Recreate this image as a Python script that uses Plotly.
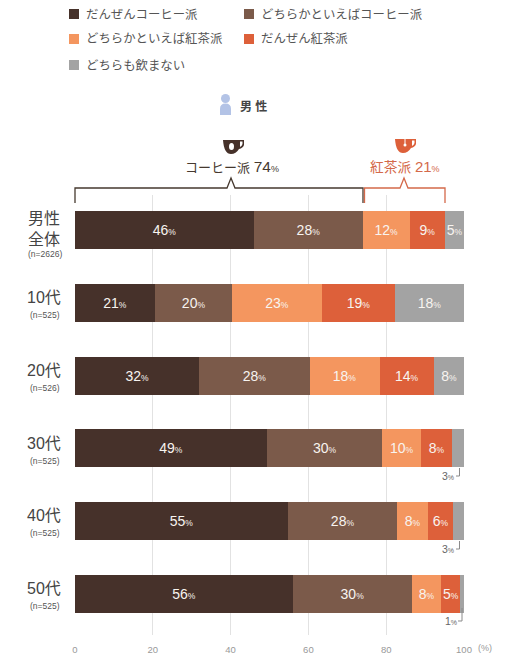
import plotly.graph_objects as go

categories = ["男性全体", "10代", "20代", "30代", "40代", "50代"]
row_names = ["男性<br>全体", "10代", "20代", "30代", "40代", "50代"]
row_ns = ["(n=2626)", "(n=525)", "(n=526)", "(n=525)", "(n=525)", "(n=525)"]

series_names = ["だんぜんコーヒー派", "どちらかといえばコーヒー派", "どちらかといえば紅茶派", "だんぜん紅茶派", "どちらも飲まない"]
always_coffee = [46.0, 20.6, 32.0, 49.4, 54.8, 56.0]
rather_coffee = [28.0, 19.8, 28.3, 29.6, 28.0, 30.6]
rather_tea = [12.0, 23.1, 18.0, 10.0, 8.0, 7.6]
always_tea = [9.2, 18.8, 14.0, 7.9, 6.4, 4.8]
neither = [4.8, 17.7, 7.7, 3.1, 2.8, 1.0]
series_values = [always_coffee, rather_coffee, rather_tea, always_tea, neither]
series_labels = [
    [46, 21, 32, 49, 55, 56],
    [28, 20, 28, 30, 28, 30],
    [12, 23, 18, 10, 8, 8],
    [9, 19, 14, 8, 6, 5],
    [5, 18, 8, None, None, None],
]
colors = ["#46312a", "#7b5a4a", "#f4965f", "#dd603a", "#a3a3a3"]

FONT = "Liberation Sans, Noto Sans CJK JP, sans-serif"
W, H = 506, 660
L, R, T, B = 75, 464, 195, 635


def px(x):
    return (x - L) / (R - L)


def py(y):
    return 1 - (y - T) / (B - T)


def path(pts):
    return " ".join(
        f"{c} {','.join(f'{px(p[i]):.5f} {py(p[i+1]):.5f}' for i in range(0, len(p), 2))}" if p else c
        for c, p in pts
    )


def pct(v, size=8.5):
    return f"{v}<span style='font-size:{size}px'>%</span>"


fig = go.Figure()
for name, vals, labs, col in zip(series_names, series_values, series_labels, colors):
    fig.add_bar(
        name=name, y=categories, x=vals, orientation="h", marker=dict(color=col, line_width=0),
        text=[pct(v) if v is not None else "" for v in labs],
        textposition="inside", insidetextanchor="middle", textangle=0, constraintext="none",
        textfont=dict(color="#f8f4f0", size=14, family=FONT),
        hoverinfo="x+name", showlegend=False,
    )

shapes, ann = [], []


def text(x, y, s, size, color="#444444", anchor="center", weight=None):
    ann.append(dict(xref="paper", yref="paper", x=px(x), y=py(y), text=s, showarrow=False,
                    xanchor=anchor, yanchor="middle", align="center",
                    font=dict(size=size, color=color, family=FONT, weight=weight)))


# legend
legend_pos = [(69, 14), (244, 14), (69, 39), (244, 39), (69, 65)]
for (x, y), name, col in zip(legend_pos, series_names, colors):
    shapes.append(dict(type="rect", xref="paper", yref="paper", x0=px(x), x1=px(x + 10),
                       y0=py(y - 5), y1=py(y + 5), fillcolor=col, line_width=0))
    text(x + 14.5, y + 0.5, name, 12.4, "#555555", "left")

# person icon
PERSON = "#b3c3e6"
shapes.append(dict(type="circle", xref="paper", yref="paper", x0=px(221), x1=px(230),
                   y0=py(94), y1=py(103), fillcolor=PERSON, line_width=0))
shapes.append(dict(type="path", xref="paper", yref="paper", fillcolor=PERSON, line_width=0,
                   path=path([("M", (220, 115)), ("L", (220, 109)), ("Q", (220, 103.5, 225.5, 103.5)),
                              ("Q", (231, 103.5, 231, 109)), ("L", (231, 115)), ("Z", ())])))
text(253, 106, "男 性", 12, "#444444", weight="bold")

# cups
COFFEE, TEA = "#46312a", "#dd603a"


def cup(x, y, col):
    shapes.append(dict(type="path", xref="paper", yref="paper", fillcolor=col, line_width=0,
                       path=path([("M", (x, y)), ("L", (x + 21, y)), ("L", (x + 21, y + 5)),
                                  ("Q", (x + 20, y + 8, x + 16, y + 9)),
                                  ("Q", (x + 13, y + 14, x + 8, y + 14)),
                                  ("Q", (x + 1, y + 14, x, y)), ("Z", ())])))
    shapes.append(dict(type="path", xref="paper", yref="paper", fillcolor="#ffffff", line_width=0,
                       path=path([("M", (x + 17, y + 1.5)), ("L", (x + 19.5, y + 1.5)), ("L", (x + 19.5, y + 4)),
                                  ("Q", (x + 19, y + 6, x + 17, y + 7)), ("Z", ())])))


cup(223, 140, COFFEE)
shapes.append(dict(type="circle", xref="paper", yref="paper", x0=px(229), x1=px(234),
                   y0=py(143), y1=py(150), fillcolor="#ffffff", line_width=0))
cup(395, 139, TEA)
shapes.append(dict(type="circle", xref="paper", yref="paper", x0=px(403.5), x1=px(406.5),
                   y0=py(143.5), y1=py(146.5), fillcolor="#ffffff", line_width=0))
shapes.append(dict(type="line", xref="paper", yref="paper", x0=px(405), x1=px(405),
                   y0=py(139), y1=py(144), line=dict(color="#ffffff", width=1)))

text(232, 167, "<span style='font-size:13px'>コーヒー派 </span>74<span style='font-size:9px'>%</span>", 15.5, "#46392f")
text(405, 167, "<span style='font-size:13.7px'>紅茶派 </span>21<span style='font-size:9px'>%</span>", 15, "#d4694a")

# brackets
shapes.append(dict(type="path", xref="paper", yref="paper", line=dict(color="#46392f", width=1.3),
                   path=path([("M", (75, 203)), ("L", (75, 188)), ("L", (227, 188)), ("L", (231, 178)),
                              ("L", (235, 188)), ("L", (363, 188)), ("L", (363, 203))])))
shapes.append(dict(type="path", xref="paper", yref="paper", line=dict(color="#d4694a", width=1.3),
                   path=path([("M", (364.5, 203)), ("L", (364.5, 188)), ("L", (400, 188)), ("L", (404, 178)),
                              ("L", (408, 188)), ("L", (445, 188)), ("L", (445, 203))])))

# row labels
name_y = [228.5, 297, 370, 443, 515, 588]
n_y = [254, 315, 388, 461, 533, 606]
for name, ny, n, nny in zip(row_names, name_y, row_ns, n_y):
    text(44, ny, name, 16, "#444444")
    text(45, nny, n, 8.5, "#555555")

# small-value leaders
GRAY = "#8a8a8a"
leaders = [(459.5, 468, 476, 456), (459.5, 541, 549, 456), (462, 608, 621, 458)]
for x, y0, y1, xe in leaders:
    shapes.append(dict(type="path", xref="paper", yref="paper", line=dict(color=GRAY, width=1),
                       path=path([("M", (x, y0)), ("L", (x, y1)), ("L", (xe, y1))])))
text(447.5, 476, pct(3, 7), 10.5, "#666666")
text(447.5, 549, pct(3, 7), 10.5, "#666666")
text(451, 621, pct(1, 7), 10.5, "#666666")
text(485, 648, "(%)", 9, "#999999")

fig.update_layout(
    width=W, height=H, barmode="stack", bargap=0.478,
    margin=dict(l=L, r=W - R, t=T, b=H - B, autoexpand=False),
    paper_bgcolor="#ffffff", plot_bgcolor="#ffffff",
    font=dict(family=FONT), shapes=shapes, annotations=ann,
    xaxis=dict(range=[0, 100], tickvals=[0, 20, 40, 60, 80, 100], showgrid=True, gridcolor="#e2e2e2",
               gridwidth=1, zeroline=False, showline=False, ticks="outside", ticklen=6,
               tickcolor="rgba(0,0,0,0)", tickfont=dict(size=9.5, color="#999999", family=FONT)),
    yaxis=dict(type="category", categoryorder="array", categoryarray=categories,
               range=[5.563, -0.48], showticklabels=False, showgrid=False, zeroline=False, ticks=""),
)
fig.write_html("out.html", config={"displayModeBar": False},
               post_script="document.body.style.margin='0';")
